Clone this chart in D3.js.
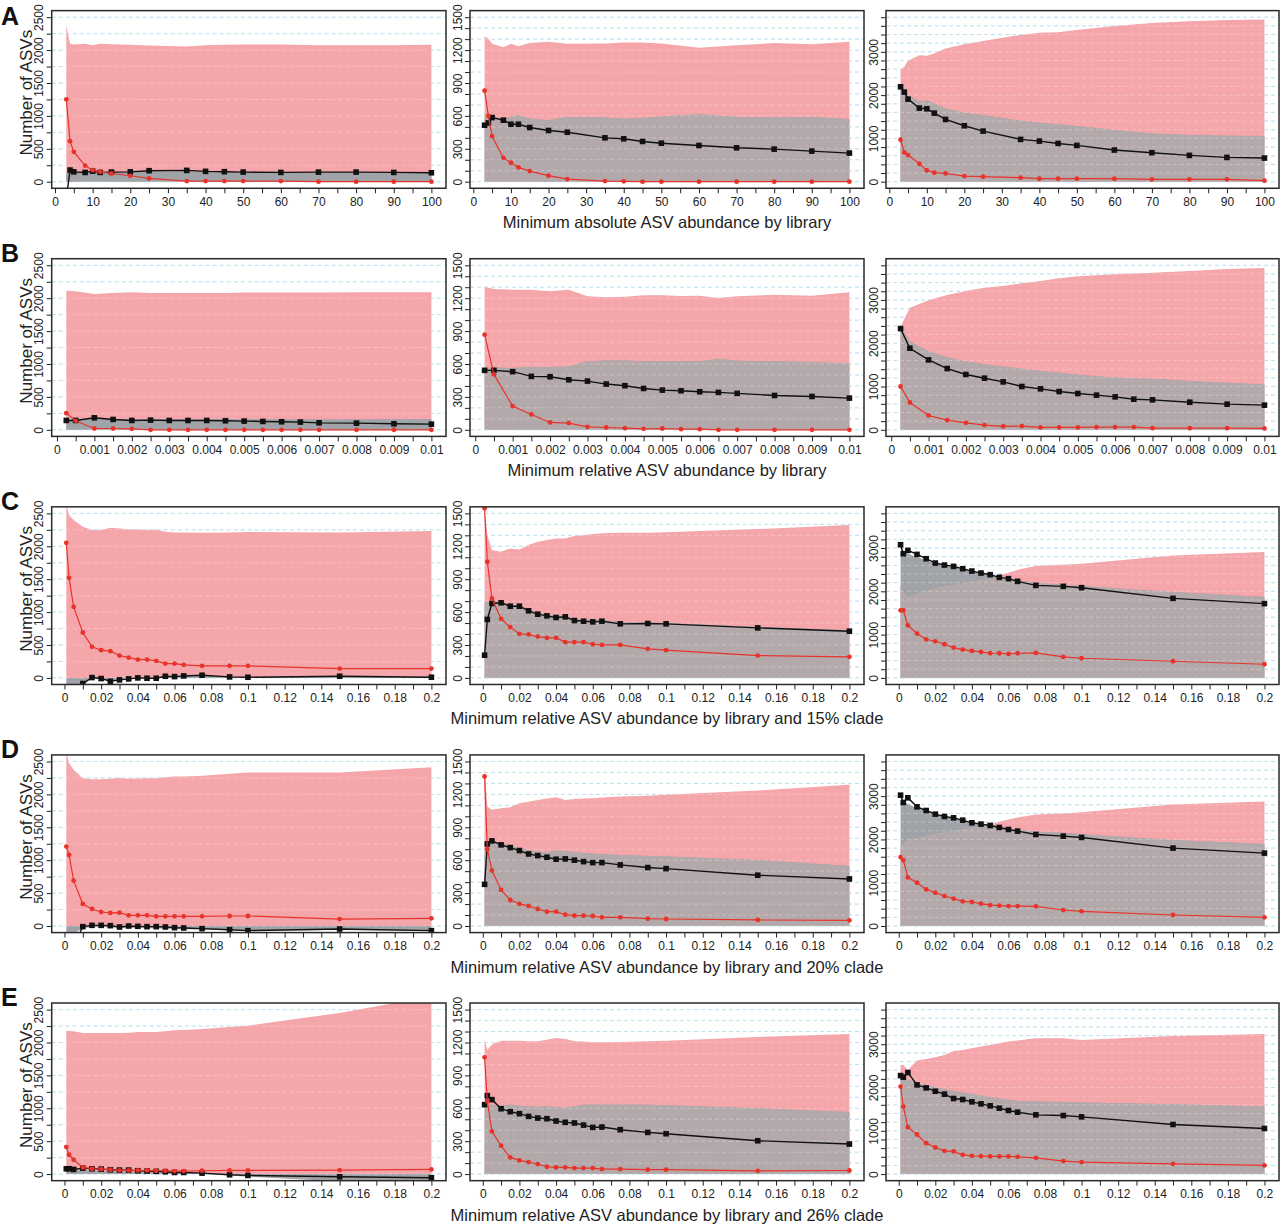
<!DOCTYPE html>
<html><head><meta charset="utf-8">
<script src="https://cdn.jsdelivr.net/npm/d3@7"></script>
<style>
body{margin:0;background:#fff}
svg{display:block}
text{font-family:"Liberation Sans",Arial,Helvetica,sans-serif}
</style></head><body>
<svg id="c" width="1281" height="1232"></svg>
<script>
// ---------------- x positions (thresholds) ----------------
const xA = [3,4,5,8,10,12,15,20,25,35,40,45,50,60,70,80,90,100];
const xB = [0.00025,0.0005,0.001,0.0015,0.002,0.0025,0.003,0.0035,0.004,0.0045,0.005,0.0055,0.006,0.0065,0.007,0.008,0.009,0.01];
const xC = [0.001,0.0025,0.005,0.01,0.015,0.02,0.025,0.03,0.035,0.04,0.045,0.05,0.055,0.06,0.065,0.075,0.09,0.1,0.15,0.2];

// ---------------- tick labels ----------------
const xLabelsA = [0,10,20,30,40,50,60,70,80,90,100];
const xLabelsB = [0,0.001,0.002,0.003,0.004,0.005,0.006,0.007,0.008,0.009,0.01];
const xLabelsC = [0,0.02,0.04,0.06,0.08,0.1,0.12,0.14,0.16,0.18,0.2];
const yLabelsLeft = [0,500,1000,1500,2000,2500];
const yLabelsMid = [0,300,600,900,1200,1500];
const yLabelsRight = [0,1000,2000,3000];
const rowLetters = ["A","B","C","D","E"];
const rowTitles = [
  "Minimum absolute ASV abundance by library",
  "Minimum relative ASV abundance by library",
  "Minimum relative ASV abundance by library and 15% clade",
  "Minimum relative ASV abundance by library and 20% clade",
  "Minimum relative ASV abundance by library and 26% clade"
];
const yTitle = "Number of ASVs";

// ---------------- Row A ----------------
const aLBlack = [-250,177,150,141,160,141,146,150,167,172,157,152,146,141,146,146,141,136];
const aLRed   = [1252,616,454,245,175,150,125,90,50,10,10,10,10,10,0,0,0,0];
const aLPink  = [2374,2096,2086,2096,2075,2096,2090,2080,2070,2055,2075,2080,2085,2085,2075,2075,2075,2080];
const aLGray  = [130,150,140,135,140,135,140,140,150,155,145,140,135,130,135,135,130,130];

const aMBlack = [515,536,585,561,524,524,494,467,451,400,391,367,351,330,309,297,279,261];
const aMRed   = [830,600,415,218,173,130,97,55,24,6,3,0,0,0,0,0,0,0];
const aMPink  = [1324,1303,1257,1227,1257,1236,1264,1276,1257,1260,1270,1270,1260,1221,1245,1264,1254,1276];
const aMGray  = [621,606,590,575,590,606,575,560,590,585,575,580,595,615,590,585,590,570];

const aRBlack = [2192,2069,1907,1700,1684,1584,1438,1292,1169,977,938,884,838,731,669,608,561,546];
const aRRed   = [969,677,615,415,261,208,192,131,115,92,69,69,69,69,54,54,54,23];
const aRPink  = [2592,2653,2792,2922,2907,2961,3076,3176,3253,3391,3438,3453,3507,3599,3668,3707,3737,3745];
const aRGray  = [2269,2115,2000,1846,1884,1807,1692,1592,1538,1407,1361,1330,1284,1192,1115,1077,1061,1054];

// ---------------- Row B ----------------
const bLBlack = [142,142,182,157,142,147,142,142,142,137,132,127,122,117,106,101,91,86];
const bLRed   = [253,137,20,20,15,0,0,0,0,0,0,0,0,0,0,0,0,0];
const bLPink  = [2114,2104,2063,2079,2089,2080,2079,2079,2079,2080,2085,2085,2085,2085,2085,2089,2089,2089];
const bLGray  = [165,160,165,162,160,160,160,160,158,158,158,158,158,158,158,158,160,160];

const bMBlack = [542,542,530,487,484,456,444,417,402,377,362,356,347,341,332,313,304,289];
const bMRed   = [867,505,216,140,67,61,27,21,15,9,12,6,6,0,0,0,0,0];
const bMPink  = [1302,1284,1278,1278,1263,1278,1217,1208,1214,1226,1226,1220,1223,1202,1217,1232,1223,1254];
const bMGray  = [563,569,563,572,572,578,624,633,633,624,624,624,624,645,630,624,618,603];

const bRBlack = [2338,1884,1615,1415,1277,1192,1107,1000,946,884,838,800,761,707,692,638,592,569];
const bRRed   = [1000,631,331,223,161,108,77,85,54,54,54,62,62,62,38,38,38,31];
const bRPink  = [2384,2822,2992,3115,3207,3284,3322,3384,3438,3499,3545,3568,3591,3610,3630,3668,3714,3737];
const bRGray  = [2384,2038,1807,1677,1577,1515,1461,1410,1361,1315,1269,1238,1207,1192,1177,1130,1084,1046];

// ---------------- Row C ----------------
const cLBlack = [-300,-250,-200,-86,5,-10,-51,-30,-15,0,-5,-5,25,20,30,41,15,10,25,10];
const cLRed   = [2053,1521,1080,690,472,421,406,340,309,279,279,259,218,218,198,183,183,183,142,142];
const cLPink  = [2626,2474,2398,2297,2246,2246,2282,2272,2256,2256,2246,2251,2221,2211,2211,2205,2211,2216,2211,2231];
const cLGray  = [-120,-120,-120,-90,5,-10,-40,-25,-10,0,0,0,25,20,30,40,15,10,25,10];

const cMBlack = [207,533,679,685,654,654,612,581,566,551,557,523,517,511,517,493,496,493,456,426];
const cMRed   = [1546,1059,724,539,463,402,396,377,365,365,326,326,326,307,301,301,265,253,204,192];
const cMPink  = [1515,1302,1165,1150,1181,1171,1211,1241,1257,1272,1272,1293,1300,1312,1318,1324,1324,1327,1357,1394];
const cMGray  = [690,690,690,690,665,660,625,595,580,565,565,540,535,530,530,510,505,500,465,435];

const cRBlack = [3076,2868,2945,2853,2753,2653,2607,2576,2522,2468,2422,2384,2322,2292,2230,2138,2115,2084,1838,1715];
const cRRed   = [1561,1561,1215,1023,892,846,777,700,654,623,600,569,569,554,569,577,484,454,385,315];
const cRPink  = [2138,1984,1869,1946,2022,2076,2122,2153,2192,2230,2269,2307,2369,2430,2499,2584,2615,2638,2830,2907];
const cRGray  = [2907,2907,2868,2791,2715,2638,2599,2561,2507,2461,2422,2384,2330,2292,2253,2199,2153,2122,1984,1869];

// ---------------- Row D ----------------
const dLBlack = [-400,-350,-300,-10,10,10,5,-15,0,-5,-10,-10,-15,-25,-30,-40,-56,-71,-46,-71];
const dLRed   = [1207,1080,690,335,259,213,198,203,162,162,162,147,147,147,147,147,152,152,106,117];
const dLPink  = [2650,2474,2373,2246,2231,2231,2236,2251,2236,2241,2246,2246,2261,2271,2271,2282,2312,2332,2332,2413];
const dLGray  = [-120,-120,-120,-30,-20,-20,-20,-30,-30,-30,-35,-35,-40,-45,-50,-55,-65,-75,-60,-75];

const dMBlack = [380,749,776,740,715,688,657,642,627,609,612,600,587,578,578,557,533,523,463,429];
const dMRed   = [1363,700,505,329,237,201,183,155,131,131,103,94,94,91,79,79,67,64,55,52];
const dMPink  = [1455,1089,1059,1074,1083,1120,1132,1150,1162,1175,1150,1159,1162,1165,1171,1181,1187,1196,1235,1287];
const dMGray  = [755,755,770,755,730,709,694,679,670,688,685,672,665,660,655,648,639,633,602,548];

const dRBlack = [3022,2853,2961,2753,2668,2584,2530,2499,2445,2384,2353,2322,2276,2230,2192,2115,2076,2046,1799,1684];
const dRRed   = [1592,1523,1123,1000,846,769,692,631,569,554,515,484,469,461,461,454,369,338,254,200];
const dRPink  = [1830,1900,1984,2038,2076,2138,2170,2199,2230,2269,2307,2345,2407,2461,2507,2576,2599,2630,2807,2876];
const dRGray  = [2845,2845,2830,2715,2661,2584,2530,2492,2445,2399,2368,2330,2292,2253,2230,2176,2153,2122,1984,1892];

// ---------------- Row E ----------------
const eLBlack = [81,81,71,91,81,76,66,61,61,51,46,41,35,25,25,15,-10,-20,-41,-56];
const eLRed   = [411,294,218,101,81,76,66,56,56,56,56,51,51,46,46,51,56,56,61,71];
const eLPink  = [2180,2175,2170,2145,2145,2145,2145,2145,2150,2160,2160,2160,2170,2185,2190,2205,2236,2256,2450,2700];
const eLGray  = [60,60,55,50,50,45,40,40,35,30,30,25,20,15,10,0,-20,-40,-110,-120];

const eMBlack = [633,715,679,596,569,551,526,511,505,484,472,466,447,426,429,405,380,368,304,274];
const eMRed   = [1065,663,390,259,152,125,110,91,67,61,61,55,55,55,46,46,40,40,30,33];
const eMPink  = [1226,1135,1181,1217,1217,1217,1211,1211,1226,1241,1232,1211,1208,1202,1202,1205,1211,1217,1251,1278];
const eMGray  = [633,633,633,624,633,624,618,612,618,612,603,618,633,633,633,633,633,627,600,566];

const eRBlack = [2276,2238,2345,2061,1992,1915,1846,1746,1723,1669,1623,1577,1523,1469,1430,1369,1353,1323,1146,1054];
const eRRed   = [2022,1561,1084,915,715,615,538,523,446,423,415,408,408,408,400,377,300,277,238,200];
const eRPink  = [2522,2522,2407,2622,2661,2699,2753,2845,2868,2907,2945,2984,3022,3061,3084,3138,3138,3099,3191,3238];
const eRGray  = [2253,2215,2192,2099,2061,2007,1961,1922,1884,1853,1815,1776,1745,1715,1690,1676,1665,1653,1615,1561];

// ---------------- layout & style ----------------
const colL = [51.7, 470, 886], colR = [446, 864, 1279];
const yMaxCol = [2500, 1500, 3800];
const yGridStep = [250, 100, 200];
const yLabelsCol = [yLabelsLeft, yLabelsMid, yLabelsRight];
const overlapCol = ["#a0a4a9", "#b4a9aa", "#b4a9aa"];
const PINK = "#f4a6ab", GRAY = "#a0a4a9", RED = "#e8332b", BLK = "#111";
const zeroOf = r => 181.7 + 248.1 * r;
const FONT = '"Liberation Sans",Arial,Helvetica,sans-serif';

const rows = [
  {xs:xA, minor:5, labels:xLabelsA, panels:[[aLBlack,aLRed,aLPink,aLGray],[aMBlack,aMRed,aMPink,aMGray],[aRBlack,aRRed,aRPink,aRGray]]},
  {xs:xB, minor:0.0005, labels:xLabelsB, panels:[[bLBlack,bLRed,bLPink,bLGray],[bMBlack,bMRed,bMPink,bMGray],[bRBlack,bRRed,bRPink,bRGray]]},
  {xs:xC, minor:0.01, labels:xLabelsC, panels:[[cLBlack,cLRed,cLPink,cLGray],[cMBlack,cMRed,cMPink,cMGray],[cRBlack,cRRed,cRPink,cRGray]]},
  {xs:xC, minor:0.01, labels:xLabelsC, panels:[[dLBlack,dLRed,dLPink,dLGray],[dMBlack,dMRed,dMPink,dMGray],[dRBlack,dRRed,dRPink,dRGray]]},
  {xs:xC, minor:0.01, labels:xLabelsC, panels:[[eLBlack,eLRed,eLPink,eLGray],[eMBlack,eMRed,eMPink,eMGray],[eRBlack,eRRed,eRPink,eRGray]]}
];

const svg = d3.select("#c");
const defs = svg.append("defs");

rows.forEach((row, r) => {
  const zero = zeroOf(r);
  const xs = row.xs;
  const xmin = d3.min(xs), xmax = d3.max(xs), ext = (xmax - xmin) * 0.04;
  const lastLabel = row.labels[row.labels.length - 1];
  const minorTicks = d3.range(0, Math.round(lastLabel / row.minor) + 1).map(i => +(i * row.minor).toFixed(6));

  row.panels.forEach((p, c) => {
    const [black, red, pink, gray] = p;
    const L = colL[c], R = colR[c], yMax = yMaxCol[c];
    const x = d3.scaleLinear().domain([xmin - ext, xmax + ext]).range([L, R]);
    const y = d3.scaleLinear().domain([-0.04 * yMax, 1.04 * yMax]).range([zero + 164.5 * 0.04, zero - 164.5 * 1.04]);
    const top = y(1.04 * yMax), bot = y(-0.04 * yMax);
    const id = `p${r}${c}`;
    defs.append("clipPath").attr("id", id + "box").append("rect")
      .attr("x", L).attr("y", top).attr("width", R - L).attr("height", bot - top);
    const pts = xs.map((v, i) => ({x: v, b: black[i], r: red[i], p: pink[i], g: gray[i]}));
    const pinkArea = d3.area().x(d => x(d.x)).y0(y(0)).y1(d => y(d.p));
    const grayArea = d3.area().x(d => x(d.x)).y0(y(0)).y1(d => y(d.g));
    defs.append("clipPath").attr("id", id + "pink").append("path").attr("d", pinkArea(pts));

    const g = svg.append("g");
    const pl = g.append("g").attr("clip-path", `url(#${id}box)`);
    const grid = d3.range(0, yMax + 1, yGridStep[c]);
    pl.selectAll(".gl").data(grid).join("line")
      .attr("x1", L).attr("x2", R).attr("y1", v => y(v)).attr("y2", v => y(v))
      .attr("stroke", "#a9d6e8").attr("stroke-width", 1).attr("stroke-dasharray", "4,3");
    pl.append("path").attr("d", pinkArea(pts)).attr("fill", PINK);
    pl.append("path").attr("d", grayArea(pts)).attr("fill", GRAY);
    pl.append("path").attr("d", grayArea(pts)).attr("fill", overlapCol[c]).attr("clip-path", `url(#${id}pink)`);
    pl.selectAll(".gw").data(grid).join("line")
      .attr("x1", L).attr("x2", R).attr("y1", v => y(v)).attr("y2", v => y(v))
      .attr("stroke", "#ffffff").attr("stroke-opacity", 0.28).attr("stroke-width", 1).attr("stroke-dasharray", "4,3");
    pl.append("path").attr("d", d3.line().x(d => x(d.x)).y(d => y(d.b))(pts))
      .attr("fill", "none").attr("stroke", BLK).attr("stroke-width", 1.4);
    pl.selectAll(".sq").data(pts).join("rect")
      .attr("x", d => x(d.x) - 2.8).attr("y", d => y(d.b) - 2.8).attr("width", 5.6).attr("height", 5.6).attr("fill", BLK);
    pl.append("path").attr("d", d3.line().x(d => x(d.x)).y(d => y(d.r))(pts))
      .attr("fill", "none").attr("stroke", RED).attr("stroke-width", 1.2);
    pl.selectAll(".ci").data(pts).join("circle")
      .attr("cx", d => x(d.x)).attr("cy", d => y(d.r)).attr("r", 2.4).attr("fill", RED);

    const yLab = yLabelsCol[c];
    const yAxis = d3.axisLeft(y).tickValues(grid).tickSize(5)
      .tickFormat(v => yLab.includes(v) ? String(v) : "");
    const ya = g.append("g").attr("transform", `translate(${L},0)`).call(yAxis)
      .attr("font-size", 12).attr("font-family", FONT).attr("color", "#222");
    ya.select(".domain").remove();
    ya.selectAll("text").attr("transform", "rotate(-90)").attr("x", 0).attr("y", -8.5)
      .attr("dy", "0").attr("text-anchor", "middle").attr("fill", "#222");

    const xAxis = d3.axisBottom(x).tickValues(minorTicks).tickSize(5).tickPadding(4)
      .tickFormat(v => {
        const lab = row.labels.find(l => Math.abs(l - v) < row.minor / 10);
        return lab === undefined ? "" : String(lab);
      });
    const xa = g.append("g").attr("transform", `translate(0,${bot})`).call(xAxis)
      .attr("font-size", 12).attr("font-family", FONT).attr("color", "#222");
    xa.select(".domain").remove();
    xa.selectAll("text").attr("fill", "#222");

    g.append("rect").attr("x", L).attr("y", top).attr("width", R - L).attr("height", bot - top)
      .attr("fill", "none").attr("stroke", "#2a2a2a").attr("stroke-width", 1.5);
  });

  svg.append("text").attr("x", 1).attr("y", Math.max(zero - 168, 25)).text(rowLetters[r])
    .attr("font-size", 25).attr("font-weight", "bold").attr("fill", "#111");
  svg.append("text").attr("transform", `translate(31.5,${zero - 89}) rotate(-90)`)
    .attr("text-anchor", "middle").attr("font-size", 17).attr("fill", "#222").text(yTitle);
  svg.append("text").attr("x", (colL[1] + colR[1]) / 2).attr("y", zero + 46.5)
    .attr("text-anchor", "middle").attr("font-size", 16.5).attr("fill", "#222").text(rowTitles[r]);
});
</script>
</body></html>
